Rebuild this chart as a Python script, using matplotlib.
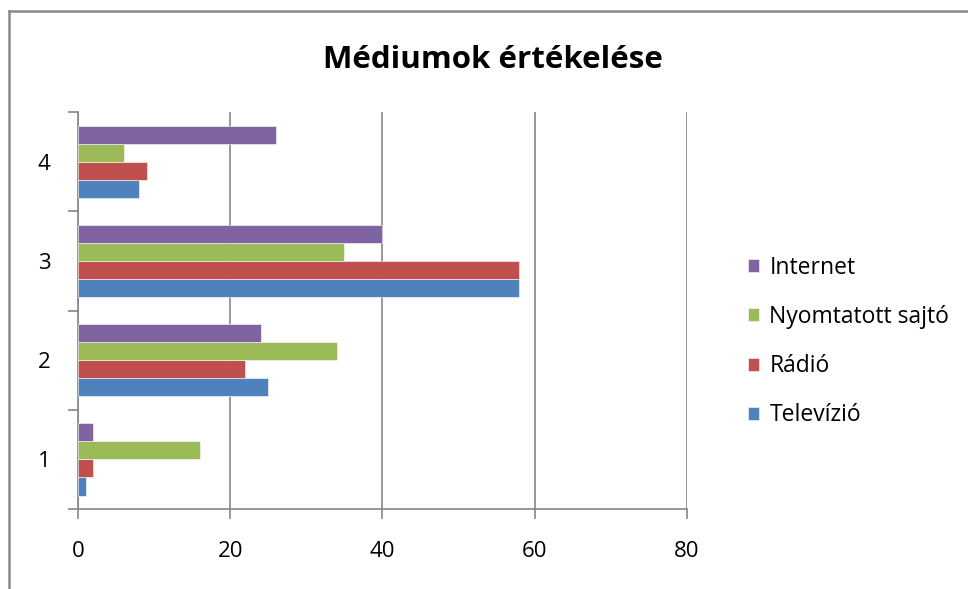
import matplotlib.pyplot as plt
from matplotlib.lines import Line2D
import numpy as np

plt.rcParams['font.family'] = ['Open Sans', 'DejaVu Sans']

categories = ['1', '2', '3', '4']
televizio = [1, 25, 58, 8]
radio = [2, 22, 58, 9]
sajto = [16, 34, 35, 6]
internet = [2, 24, 40, 26]

series = [('Televízió', televizio, '#4F81BD'),
          ('Rádió', radio, '#C0504D'),
          ('Nyomtatott sajtó', sajto, '#9BBB59'),
          ('Internet', internet, '#8064A2')]

fig = plt.figure(figsize=(9.68, 5.89), dpi=100)
ax = fig.add_axes([0.0806, 0.1358, 0.629, 0.674])

y = np.arange(1, len(categories) + 1)
w = 0.182
offsets = [-1.5, -0.5, 0.5, 1.5]
for (name, vals, col), off in zip(series, offsets):
    ax.barh(y + off * w, vals, height=w, color=col, edgecolor='white',
            linewidth=0.4, label=name, zorder=3)

ax.set_xlim(0, 80)
ax.set_ylim(0.5, 4.5)
ax.set_xticks([0, 20, 40, 60, 80])
ax.set_yticks(y)
ax.set_yticklabels(categories)
ax.set_yticks([0.5, 1.5, 2.5, 3.5, 4.5], minor=True)
ax.tick_params(axis='y', which='major', length=0, pad=20, labelsize=16)
ax.tick_params(axis='y', which='minor', length=7, color='#868686', width=1.2)
ax.tick_params(axis='x', length=7, color='#868686', width=1.2, pad=16, labelsize=16)
ax.grid(axis='x', color='#868686', linewidth=1.2, zorder=0)
for s in ['top', 'right']:
    ax.spines[s].set_visible(False)
for s in ['left', 'bottom']:
    ax.spines[s].set_color('#868686')
    ax.spines[s].set_linewidth(1.2)

fig.text(0.509, 0.898, 'Médiumok értékelése', ha='center', va='center',
         fontsize=22.5, fontweight='bold')

handles, labels = ax.get_legend_handles_labels()
fig.legend(handles[::-1], labels[::-1], loc='center left',
           bbox_to_anchor=(0.751, 0.42), frameon=False, fontsize=16.5,
           handlelength=0.5, handleheight=0.5, handletextpad=0.45,
           labelspacing=1.1)

# outer chart frame
fig.add_artist(Line2D([0.0093, 0.0093], [0, 0.981], color='#8a8a8a', linewidth=1.8))
fig.add_artist(Line2D([0.0093, 1], [0.981, 0.981], color='#8a8a8a', linewidth=1.8))

fig.savefig('out.png', dpi=100)
